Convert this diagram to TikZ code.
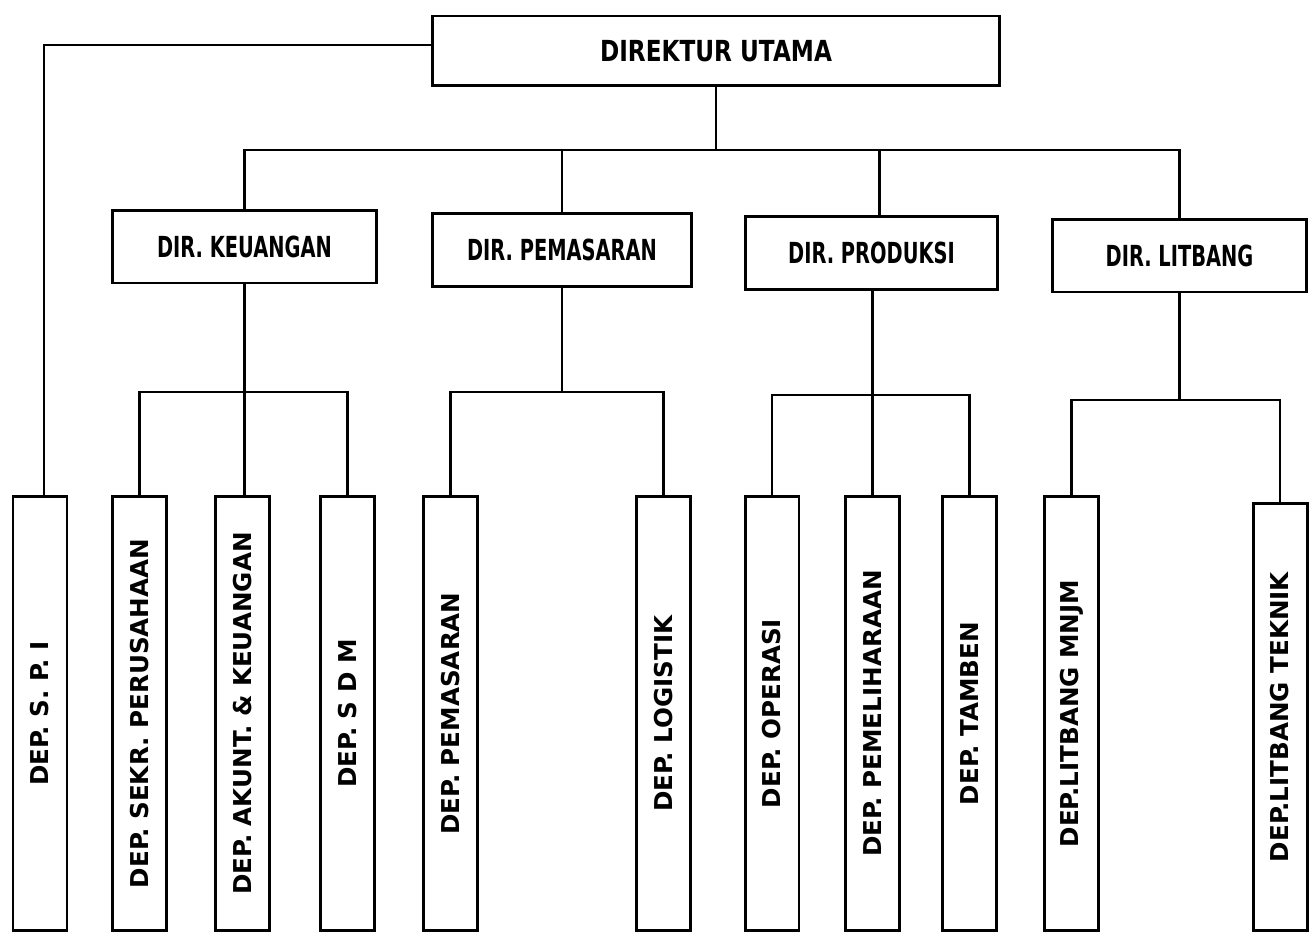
\documentclass[tikz,border=0pt]{standalone}
\usepackage{graphicx}
\usepackage{fontspec}
\setmainfont{DejaVu Sans}
\usetikzlibrary{calc}
\tikzset{
  box/.style={draw, line width=1.7pt, inner sep=0pt, align=center},
  topbox/.style={box, minimum width=11.36cm, minimum height=1.4cm, font=\fontsize{16.5}{19}\selectfont\bfseries},
  dirbox/.style={box, minimum height=1.46cm, font=\fontsize{16.5}{19}\selectfont\bfseries},
  depbox/.style={box, anchor=south, minimum width=1.08cm, minimum height=8.68cm, font=\fontsize{14}{16}\selectfont\bfseries},
  link/.style={line width=1.6pt}
}
\newcommand{\cond}[2]{\scalebox{#1}[1]{#2}}
\newcommand{\up}[1]{\rotatebox{90}{#1}}
\begin{document}
\begin{tikzpicture}[x=0.02cm,y=-0.02cm]
\useasboundingbox (0,0) rectangle (1309,936);
% top
\node[topbox] (du) at (716,51) {\cond{0.8}{DIREKTUR UTAMA}};
% level 2
\node[dirbox, minimum width=5.3cm] (kev) at (244.5,246.5) {\cond{0.67}{DIR. KEUANGAN}};
\node[dirbox, minimum width=5.2cm] (pem) at (562,250) {\cond{0.67}{DIR. PEMASARAN}};
\node[dirbox, minimum width=5.06cm] (pro) at (871.5,253) {\cond{0.67}{DIR. PRODUKSI}};
\node[dirbox, minimum width=5.1cm] (lit) at (1179.5,255.5) {\cond{0.67}{DIR. LITBANG}};
% level 3
\node[depbox] (spi) at (40,932) {\up{DEP. S. P. I}};
\node[depbox] (sek) at (139.5,932) {\up{DEP. SEKR. PERUSAHAAN}};
\node[depbox] (akt) at (242.5,932) {\up{DEP. AKUNT. \& KEUANGAN}};
\node[depbox] (sdm) at (347.5,932) {\up{DEP. S D M}};
\node[depbox] (pms) at (450.5,932) {\up{DEP. PEMASARAN}};
\node[depbox] (log) at (663.5,932) {\up{DEP. LOGISTIK}};
\node[depbox] (ope) at (772,932) {\up{DEP. OPERASI}};
\node[depbox] (pel) at (872.5,932) {\up{DEP. PEMELIHARAAN}};
\node[depbox] (tam) at (969.5,932) {\up{DEP. TAMBEN}};
\node[depbox] (mnj) at (1071.5,932) {\up{DEP.LITBANG MNJM}};
\node[depbox, minimum height=8.54cm] (tek) at (1280,932) {\up{DEP.LITBANG TEKNIK}};
% junction coordinates
\coordinate (bar1) at (716,150);
\coordinate (kb) at (0,392);
\coordinate (pb) at (0,392);
\coordinate (prb) at (0,395);
\coordinate (lb) at (0,400);
\coordinate (prx) at ($(pro.north)+(8,0)$);
\coordinate (spx) at ($(spi.north)+(4,0)$);
% connectors
\draw[link] ([yshift=0.12cm]du.west) -| (spx);
\draw[link] (du.south) -- (du.south |- bar1);
\draw[link] (kev.north) -- (kev.north |- bar1) -| (lit.north);
\draw[link] (pem.north) -- (pem.north |- bar1);
\draw[link] (prx) -- (prx |- bar1);
% keuangan
\draw[link] (kev.south) -- (kev.south |- akt.north);
\draw[link] (sek.north) -- (sek.north |- kb) -| (sdm.north);
% pemasaran
\draw[link] (pem.south) -- (pem.south |- pb);
\draw[link] (pms.north) -- (pms.north |- pb) -| (log.north);
% produksi
\draw[link] (pel.north |- pro.south) -- (pel.north);
\draw[link] (ope.north) -- (ope.north |- prb) -| (tam.north);
% litbang
\draw[link] (lit.south) -- (lit.south |- lb);
\draw[link] (mnj.north) -- (mnj.north |- lb) -| (tek.north);
\end{tikzpicture}
\end{document}
